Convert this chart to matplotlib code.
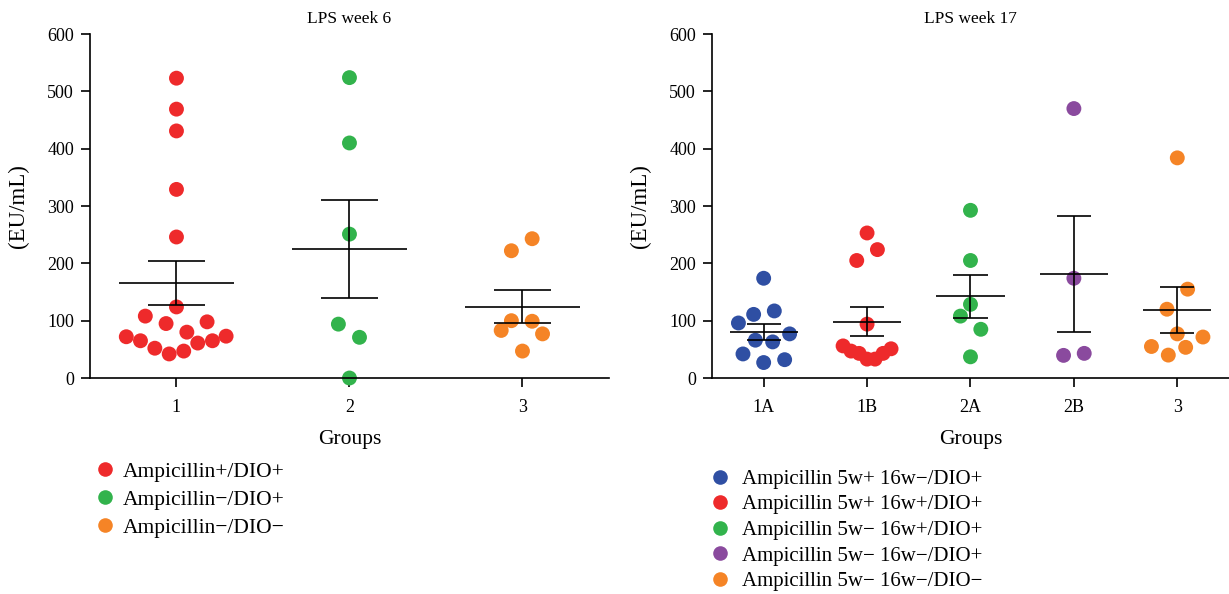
import numpy as np
import matplotlib.pyplot as plt

plt.rcParams['font.family'] = ['Liberation Serif', 'DejaVu Serif']

# week 6 data (EU/mL)
w6_labels = ['1', '2', '3']
w6_names = ['Ampicillin+/DIO+', 'Ampicillin\u2212/DIO+', 'Ampicillin\u2212/DIO\u2212']
w6_colors = ['#ee2a2b', '#32b34c', '#f58426']
w6_values = [
    [523, 469, 431, 329, 246, 124, 108, 95, 98, 80, 72, 65, 52, 42, 47, 61, 65, 73],
    [524, 410, 251, 94, 71, 0],
    [243, 222, 100, 99, 83, 77, 47],
]
# horizontal scatter of the dots, in category widths
w6_jitter = [
    [0, 0, 0, 0, 0, 0, -0.18, -0.06, 0.177, 0.06, -0.29, -0.208, -0.125, -0.042, 0.042, 0.123, 0.208, 0.287],
    [0, 0, 0, -0.064, 0.058, 0],
    [0.056, -0.064, -0.064, 0.056, -0.123, 0.116, 0],
]

# week 17 data (EU/mL)
w17_labels = ['1A', '1B', '2A', '2B', '3']
w17_names = ['Ampicillin 5w+ 16w\u2212/DIO+', 'Ampicillin 5w+ 16w+/DIO+',
             'Ampicillin 5w\u2212 16w+/DIO+', 'Ampicillin 5w\u2212 16w\u2212/DIO+',
             'Ampicillin 5w\u2212 16w\u2212/DIO\u2212']
w17_colors = ['#2f4fa3', '#ee2a2b', '#32b34c', '#8a4a9e', '#f58426']
w17_values = [
    [174, 111, 117, 96, 77, 66, 63, 42, 32, 27],
    [253, 224, 205, 94, 56, 47, 43, 33, 33, 43, 51],
    [292.5, 205, 128.5, 108, 85, 37],
    [470, 174, 39.5, 43],
    [384, 155, 120, 77, 71.5, 55, 53.5, 40],
]
w17_jitter = [
    [0, -0.097, 0.103, -0.244, 0.251, -0.08, 0.087, -0.2, 0.203, 0],
    [0, 0.1, -0.1, 0, -0.232, -0.155, -0.077, 0, 0.077, 0.155, 0.232],
    [0, 0, 0, -0.097, 0.1, 0],
    [0, 0, -0.1, 0.1],
    [0, 0.1, -0.1, 0, 0.248, -0.25, 0.081, -0.087],
]


def dot_plot(ax, labels, values, jitter, colors, title):
    for i, (vals, jit, col) in enumerate(zip(values, jitter, colors)):
        x = i + 1
        vals = np.array(vals, dtype=float)
        ax.scatter(x + np.array(jit), vals, s=115, color=col, edgecolors='none',
                   zorder=2, clip_on=False)
        m = vals.mean()
        sem = vals.std(ddof=1) / np.sqrt(len(vals))
        ax.hlines(m, x - 0.33, x + 0.33, color='black', lw=1.2, zorder=3)
        ax.vlines(x, m - sem, m + sem, color='black', lw=1.2, zorder=3)
        ax.hlines([m - sem, m + sem], x - 0.165, x + 0.165, color='black', lw=1.2, zorder=3)
    ax.set_xlim(0.5, len(labels) + 0.5)
    ax.set_ylim(0, 600)
    ax.set_xticks(range(1, len(labels) + 1))
    ax.set_xticklabels(labels)
    ax.set_yticks(range(0, 601, 100))
    ax.spines['top'].set_visible(False)
    ax.spines['right'].set_visible(False)
    ax.spines['left'].set_linewidth(1.2)
    ax.spines['bottom'].set_linewidth(1.2)
    ax.tick_params(length=6.5, width=1.2, labelsize=13)
    ax.tick_params(axis='x', pad=8.5)
    ax.tick_params(axis='y', pad=5)
    ax.set_xlabel('Groups', fontsize=15.5, labelpad=10)
    ax.set_ylabel('(EU/mL)', fontsize=16.5)
    ax.yaxis.set_label_coords(-0.118, 0.5)
    ax.set_title(title, fontsize=12.5, pad=8)


fig = plt.figure(figsize=(12.29, 5.94), dpi=100)
ax1 = fig.add_axes([0.0732, 0.3636, 0.4223, 0.5791])
ax2 = fig.add_axes([0.5793, 0.3636, 0.4207, 0.5791])

dot_plot(ax1, w6_labels, w6_values, w6_jitter, w6_colors, 'LPS week 6')
dot_plot(ax2, w17_labels, w17_values, w17_jitter, w17_colors, 'LPS week 17')

h1 = [plt.Line2D([], [], marker='o', ls='none', ms=10.5, color=c, mec='none') for c in w6_colors]
fig.legend(h1, w6_names, loc='upper left', bbox_to_anchor=(0.068, 0.237), frameon=False,
           fontsize=15.5, handletextpad=0.2, labelspacing=0.36, borderaxespad=0, handlelength=1.2)

h2 = [plt.Line2D([], [], marker='o', ls='none', ms=10.5, color=c, mec='none') for c in w17_colors]
fig.legend(h2, w17_names, loc='upper left', bbox_to_anchor=(0.569, 0.224), frameon=False,
           fontsize=15, handletextpad=0.45, labelspacing=0.29, borderaxespad=0, handlelength=1.2)

fig.savefig('out.png', dpi=100)
